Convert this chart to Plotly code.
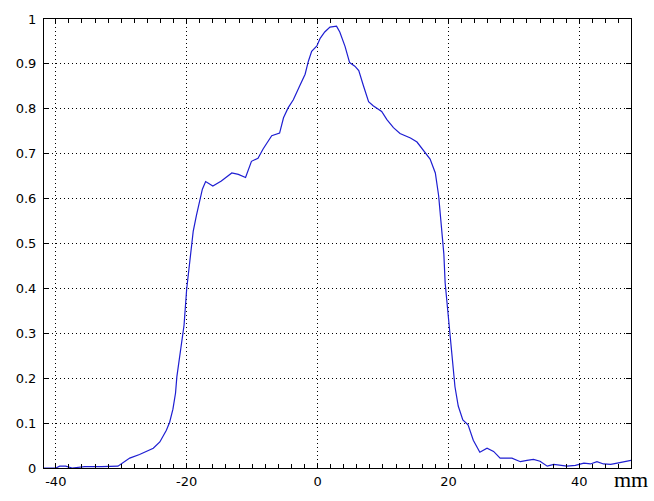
import plotly.graph_objects as go

x_mm = [-41.8, -40.0, -39.4, -38.5, -37.5, -35.6, -33.0, -30.5, -28.7, -27.2,
        -25.1, -24.1, -23.1, -22.6, -22.1, -21.7, -21.5, -20.9, -20.4, -20.0,
        -19.5, -19.0, -18.5, -18.0, -17.6, -17.1, -16.0, -14.7, -13.1, -12.1,
        -11.0, -10.1, -9.1, -8.3, -7.0, -5.8, -5.2, -4.5, -3.7, -2.7,
        -1.9, -1.4, -0.9, -0.1, 0.4, 1.1, 1.9, 2.9, 3.4, 4.2,
        4.9, 5.7, 6.3, 7.0, 7.8, 8.5, 9.8, 10.6, 11.6, 12.6,
        14.2, 15.2, 16.2, 17.2, 18.0, 18.5, 18.9, 19.3, 19.5, 19.9,
        20.3, 20.6, 21.0, 21.5, 22.2, 23.0, 23.8, 24.8, 25.9, 26.9,
        27.9, 29.7, 31.0, 32.0, 33.0, 34.0, 35.1, 36.1, 37.1, 38.1,
        39.4, 40.7, 41.7, 42.7, 43.7, 44.8, 45.8, 46.8, 47.9]
intensity = [0.0, 0.0, 0.004, 0.004, 0.0, 0.003, 0.003, 0.004, 0.022, 0.030,
             0.044, 0.058, 0.084, 0.102, 0.131, 0.167, 0.203, 0.26, 0.318, 0.398,
             0.463, 0.527, 0.563, 0.60, 0.621, 0.638, 0.628, 0.639, 0.657, 0.654,
             0.647, 0.683, 0.69, 0.711, 0.74, 0.746, 0.78, 0.802, 0.82, 0.852,
             0.877, 0.906, 0.928, 0.94, 0.957, 0.971, 0.982, 0.984, 0.971, 0.939,
             0.903, 0.895, 0.885, 0.852, 0.816, 0.807, 0.794, 0.776, 0.758, 0.745,
             0.735, 0.726, 0.708, 0.688, 0.657, 0.607, 0.542, 0.477, 0.412, 0.354,
             0.297, 0.239, 0.181, 0.138, 0.107, 0.096, 0.062, 0.035, 0.044, 0.037,
             0.022, 0.022, 0.014, 0.017, 0.019, 0.015, 0.004, 0.008, 0.006, 0.004,
             0.006, 0.011, 0.009, 0.014, 0.009, 0.008, 0.011, 0.014, 0.017]

x_ticks = [-40, -20, 0, 20, 40]
y_ticks = [0, 0.1, 0.2, 0.3, 0.4, 0.5, 0.6, 0.7, 0.8, 0.9, 1]
y_tick_labels = ["0", "0.1", "0.2", "0.3", "0.4", "0.5", "0.6", "0.7", "0.8", "0.9", "1"]
unit_label = "mm"

fig = go.Figure()
fig.add_trace(go.Scatter(x=x_mm, y=intensity, mode="lines",
                         line=dict(color="rgb(30,30,210)", width=1.2), showlegend=False))

fig.update_layout(
    width=654, height=501,
    margin=dict(l=44, r=23, t=15, b=24),
    paper_bgcolor="white", plot_bgcolor="white",
    font=dict(family="DejaVu Sans, Arial, sans-serif", size=13, color="black"),
)
fig.update_xaxes(
    range=[-41.8, 47.9], tickvals=x_ticks, ticktext=[str(v) for v in x_ticks],
    ticks="inside", ticklen=4, tickcolor="black", tickwidth=1,
    showline=True, linecolor="black", linewidth=1, mirror="ticks",
    showgrid=True, gridcolor="black", griddash="1px,3px", gridwidth=1,
    zeroline=False,
    minor=dict(dtick=2, tick0=0, ticks="inside", ticklen=4, tickcolor="black", showgrid=False),
    ticklabelstandoff=1,
)
fig.update_yaxes(
    range=[0, 1], tickvals=y_ticks, ticktext=y_tick_labels,
    ticks="inside", ticklen=5, tickcolor="black", tickwidth=1,
    showline=True, linecolor="black", linewidth=1, mirror="ticks",
    showgrid=True, gridcolor="black", griddash="1px,3px", gridwidth=1,
    zeroline=False, ticklabelstandoff=4,
)
fig.add_annotation(text=unit_label, xref="paper", yref="paper", x=1.0, y=-0.026,
                   xanchor="center", yanchor="middle", showarrow=False,
                   font=dict(family="Liberation Serif, Times New Roman, serif", size=22, color="black"))

fig.write_html("out.html")
